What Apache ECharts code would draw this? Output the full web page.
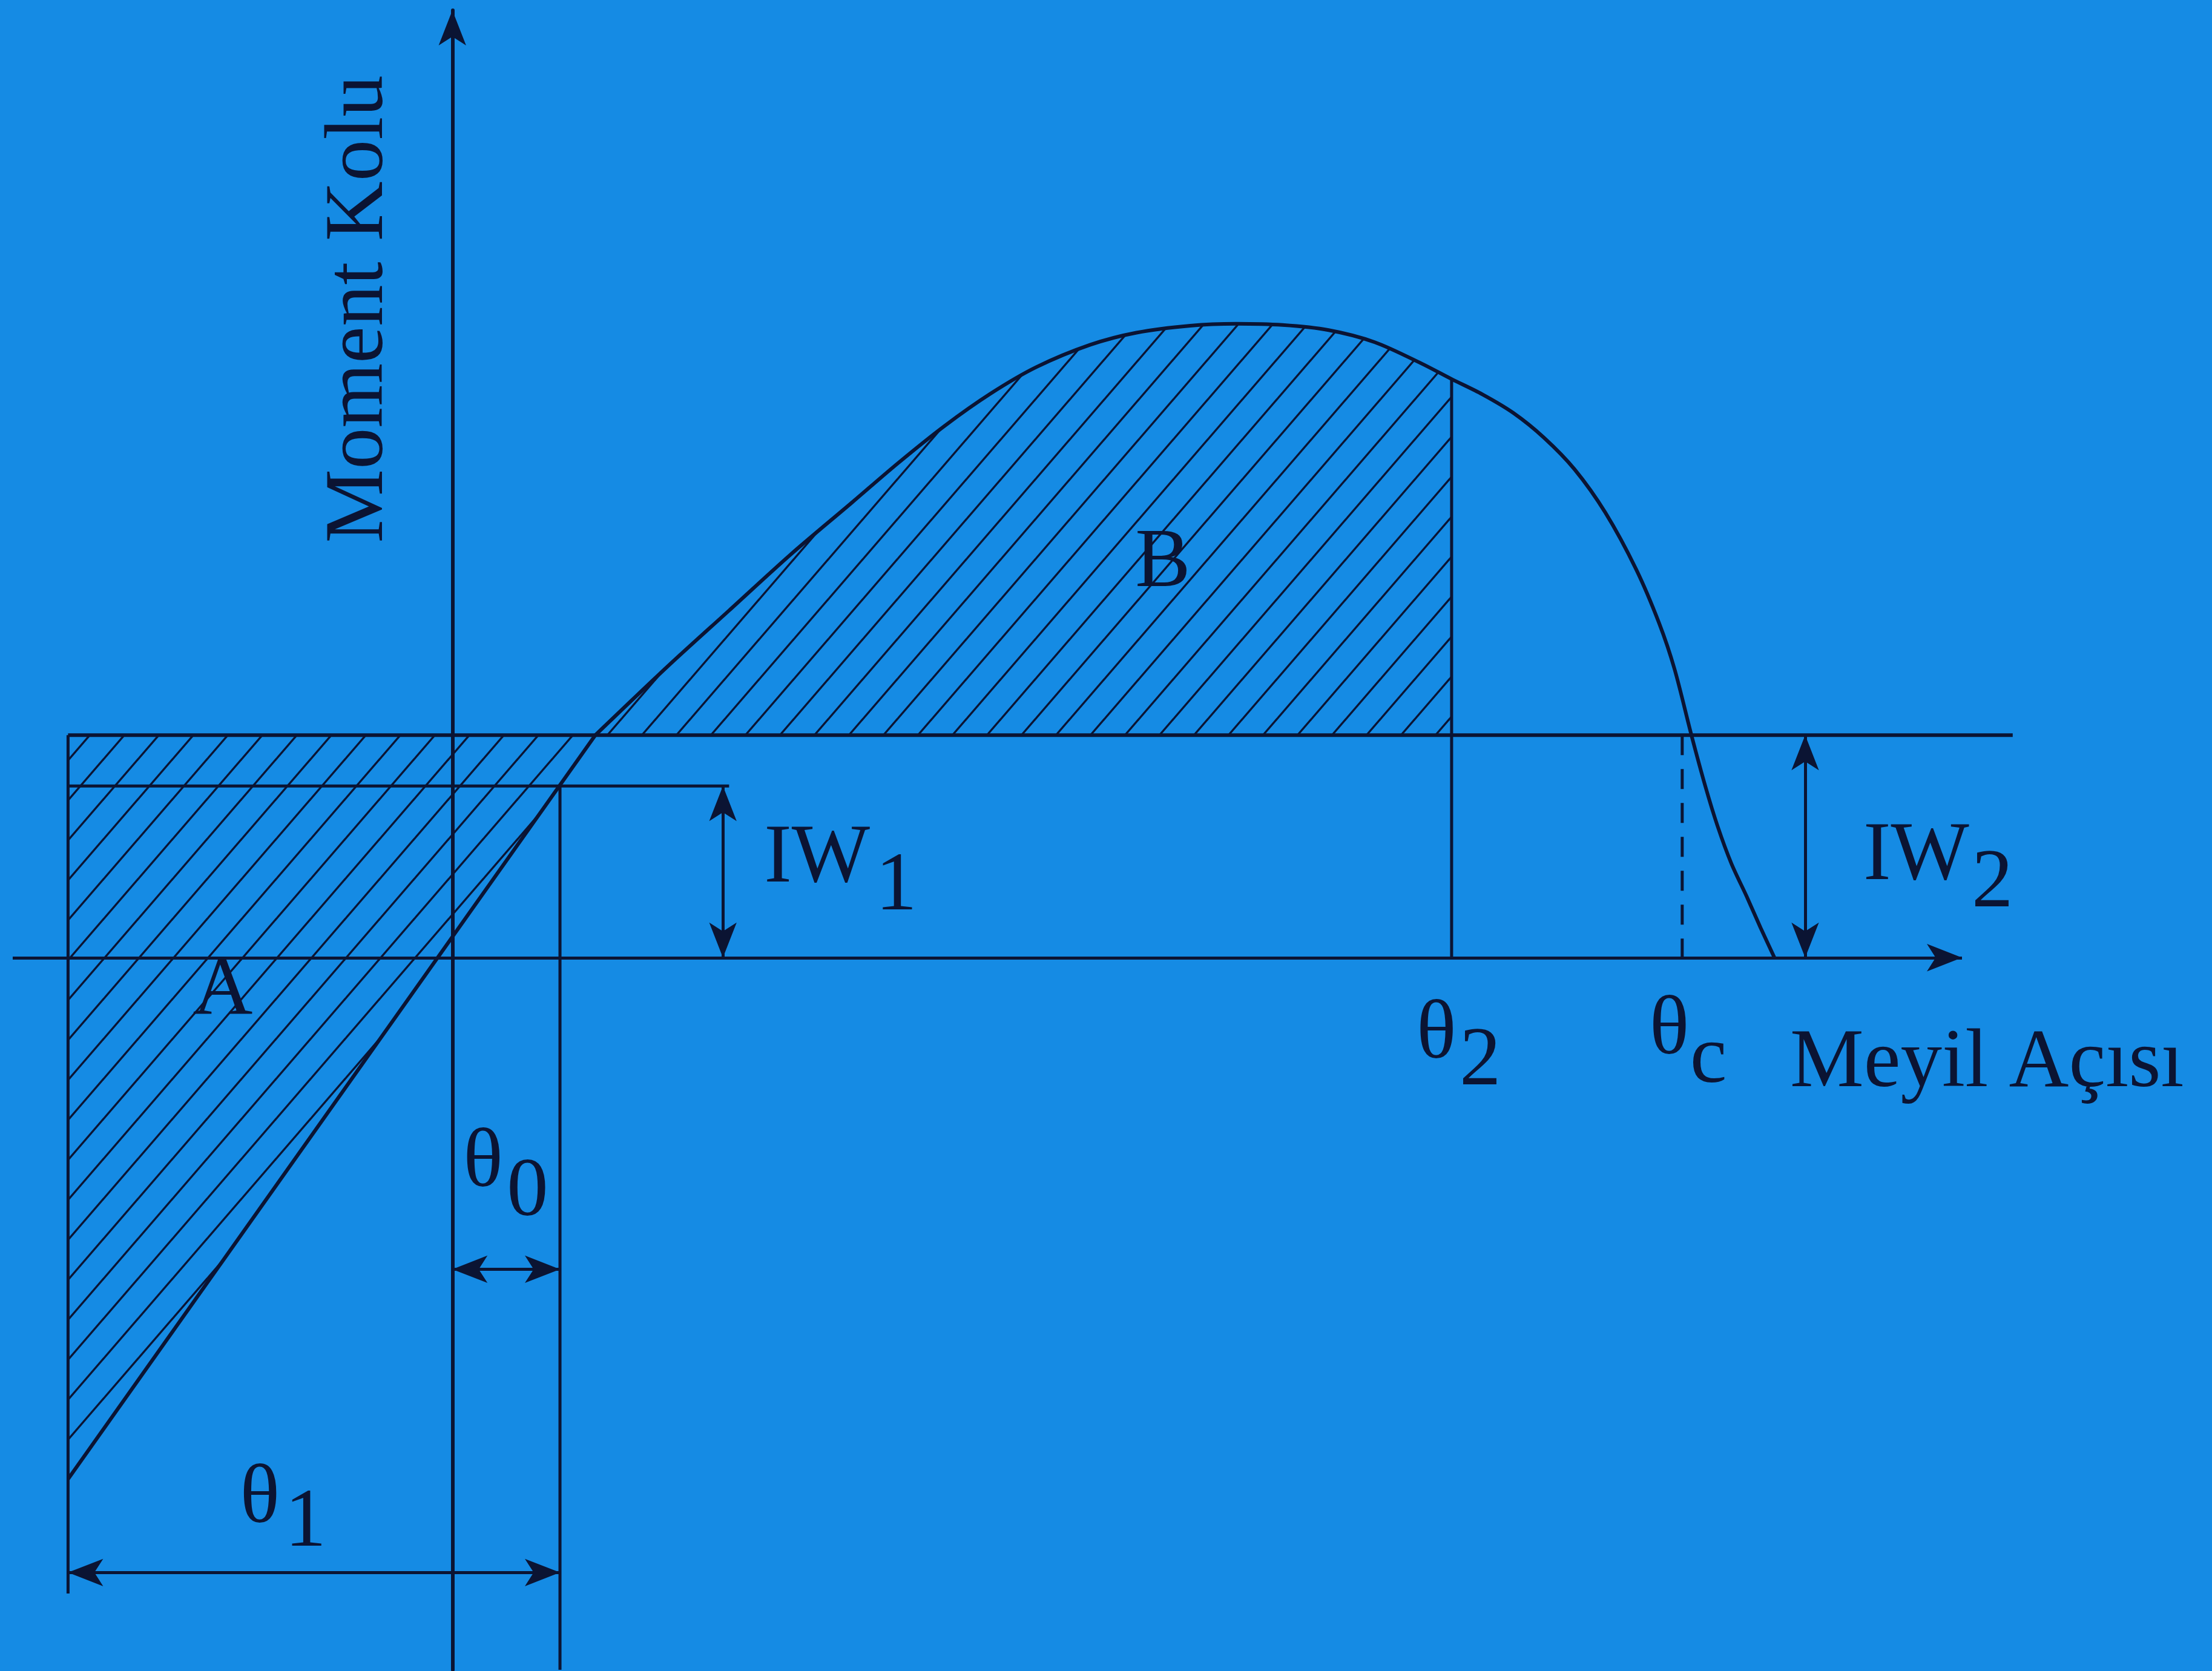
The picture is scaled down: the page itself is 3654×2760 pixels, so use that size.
<!DOCTYPE html>
<html>
<head>
<meta charset="utf-8">
<script src="https://cdn.jsdelivr.net/npm/echarts@6/dist/echarts.min.js"></script>
<style>
  html, body { margin: 0; padding: 0; background: #158be4; }
  #chart { width: 3654px; height: 2760px; }
</style>
</head>
<body>
<div id="chart"></div>
<script>
// Statical stability under wind heeling: righting lever curve (Moment Kolu)
// against heel angle (Meyil Açısı), with wind levers IW1 / IW2 and areas A, B.

// Righting lever curve, leeward branch: heel angle (deg) and lever (m)
const heelDeg = [9.3, 14, 18, 22, 26, 29, 32, 35, 38, 41.5, 44.5, 48, 51, 54, 57, 60, 63,
                 65, 67, 69, 71, 73, 75, 77, 78.5, 79.5, 80.6, 81.5, 82.3, 83.2, 84.2, 85.1, 86];
const leverM  = [0.35, 0.458, 0.546, 0.634, 0.716, 0.778, 0.836, 0.887, 0.929, 0.964, 0.983, 0.994, 0.997, 0.995, 0.987, 0.968, 0.935,
                 0.91, 0.886, 0.857, 0.818, 0.768, 0.70, 0.611, 0.526, 0.454, 0.35, 0.27, 0.207, 0.148, 0.096, 0.047, 0];

// Windward branch (roll back to windward by θ1)
const windwardHeelDeg = [-25, 9.3];
const windwardLeverM  = [-0.82, 0.35];

// Wind heeling levers (m)
const IW1 = 0.27;
const IW2 = 0.35;

// Characteristic angles (deg)
const THETA_0 = 7;        // static heel under steady wind
const THETA_1_FROM = -25; // roll-back position, θ1 measured from here to θ0
const THETA_2 = 65;       // limit of area B
const THETA_C = 80;       // intersection of IW2 with the curve

// Reference line extents (deg / m)
const IW2_LINE_END = 101.5;
const IW1_LINE_END = 18;
const ROLL_LINE_BOTTOM = -1.0;
const IW1_ARROW_AT = 17.6;
const IW2_ARROW_AT = 88;
const THETA0_ARROW_AT = -0.49;
const THETA1_ARROW_AT = -0.967;

// Axis extents
const X_MIN = -28.6, X_MAX = 102, X_ARROW_END = 98.2;
const Y_MIN = -1.12, Y_MAX = 1.49;

const INK = '#0b1433';
const BG = '#158be4';
const FONT_FAMILY = '"Liberation Serif", "Times New Roman", serif';
const FONT_SIZE = 137;

// Diagonal hatch tile used for areas A and B
function hatchPattern() {
  const w = 57, h = 66;
  const c = document.createElement('canvas');
  c.width = w; c.height = h;
  const g = c.getContext('2d');
  g.strokeStyle = INK;
  g.lineWidth = 3.4;
  for (const k of [-1, 0, 1]) {
    g.beginPath();
    g.moveTo(k * w - w, 2 * h);
    g.lineTo(k * w + 2 * w, -h);
    g.stroke();
  }
  return { image: c, repeat: 'repeat' };
}
const HATCH = hatchPattern();

const upperCurve = heelDeg.map((d, i) => [d, leverM[i]]);
const windward = windwardHeelDeg.map((d, i) => [d, windwardLeverM[i]]);
const leverAtTheta2 = leverM[heelDeg.indexOf(THETA_2)];

const areaA = [[windwardHeelDeg[0], IW2], windward[1], windward[0]];
const areaB = upperCurve.filter(p => p[0] <= THETA_2).concat([[THETA_2, IW2]]);

function hatchedArea(name, pts) {
  return {
    type: 'custom', name, coordinateSystem: 'cartesian2d',
    data: pts, silent: true, z: 1, animation: false,
    renderItem: (params, api) => {
      if (params.dataIndex !== 0) return null;
      return {
        type: 'polygon',
        shape: { points: pts.map(p => api.coord(p)) },
        style: { fill: HATCH, stroke: null }
      };
    }
  };
}

function segment(name, pts, extra) {
  return {
    type: 'line', name, data: pts, symbol: 'none', clip: false, silent: true,
    z: 3, animation: false,
    lineStyle: Object.assign({ color: INK, width: 6 }, extra || {})
  };
}

const HEAD = { symbol: 'arrow', symbolSize: [34, 58] };
const NO_HEAD = { symbol: 'none' };
function arrowLine(from, to, fromHead, toHead) {
  return [Object.assign({ coord: from }, fromHead), Object.assign({ coord: to }, toHead)];
}

const option = {
  backgroundColor: BG,
  animation: false,
  grid: { left: 21, right: 316.5, top: 17, bottom: 2, containLabel: false, outerBoundsMode: 'none' },
  xAxis: {
    type: 'value', min: X_MIN, max: X_MAX,
    axisLine: { show: false },
    axisTick: { show: false }, axisLabel: { show: false }, splitLine: { show: false }
  },
  yAxis: {
    type: 'value', min: Y_MIN, max: Y_MAX,
    axisLine: { onZero: true, symbol: ['none', 'arrow'], symbolSize: [34, 58],
                lineStyle: { color: INK, width: 6 } },
    axisTick: { show: false }, axisLabel: { show: false }, splitLine: { show: false }
  },
  series: [
    hatchedArea('A', areaA),
    hatchedArea('B', areaB),
    segment('IW2', [[windwardHeelDeg[0], IW2], [IW2_LINE_END, IW2]], { width: 6 }),
    segment('IW1', [[windwardHeelDeg[0], IW1], [IW1_LINE_END, IW1]], { width: 5 }),
    segment('roll-back', [[THETA_1_FROM, IW2], [THETA_1_FROM, ROLL_LINE_BOTTOM]], { width: 5 }),
    segment('θ0', [[THETA_0, IW1], [THETA_0, Y_MIN]], { width: 5 }),
    segment('θ2', [[THETA_2, leverAtTheta2], [THETA_2, 0]], { width: 5 }),
    segment('θc', [[THETA_C, IW2], [THETA_C, -0.02]], { width: 5, type: [33, 23] }),
    segment('windward', windward, { width: 6 }),
    Object.assign(segment('GZ', upperCurve, { width: 6 }), {
      smooth: 0.3,
      markLine: {
        silent: true, animation: false,
        label: { show: false },
        emphasis: { disabled: true },
        itemStyle: { color: INK },
        lineStyle: { color: INK, width: 5, type: 'solid' },
        data: [
          arrowLine([X_MIN, 0], [X_ARROW_END, 0], NO_HEAD, HEAD),
          arrowLine([IW1_ARROW_AT, IW1], [IW1_ARROW_AT, 0], HEAD, HEAD),
          arrowLine([IW2_ARROW_AT, IW2], [IW2_ARROW_AT, 0], HEAD, HEAD),
          arrowLine([0, THETA0_ARROW_AT], [THETA_0, THETA0_ARROW_AT], HEAD, HEAD),
          arrowLine([THETA_1_FROM, THETA1_ARROW_AT], [THETA_0, THETA1_ARROW_AT], HEAD, HEAD)
        ]
      }
    })
  ]
};

const chart = echarts.init(document.getElementById('chart'));
chart.setOption(option);

// Text placed next to the features it names (offsets in px from a data anchor)
const labels = [
  { text: 'Moment Kolu', at: [0, 0], dx: -152, dy: -685, rotation: Math.PI / 2 },
  { text: 'Meyil Açısı', at: [X_ARROW_END, 0], dx: -284, dy: 176 },
  { text: 'θ', at: [THETA_2, 0], dx: -58, dy: 129 },
  { text: '2', at: [THETA_2, 0], dx: 13, dy: 173 },
  { text: 'θ', at: [THETA_C, 0], dx: -54, dy: 122 },
  { text: 'c', at: [THETA_C, 0], dx: 13, dy: 169 },
  { text: 'IW', at: [IW1_ARROW_AT, 0], dx: 68, dy: -162 },
  { text: '1', at: [IW1_ARROW_AT, 0], dx: 252, dy: -116 },
  { text: 'IW', at: [IW2_ARROW_AT, 0], dx: 96, dy: -166 },
  { text: '2', at: [IW2_ARROW_AT, 0], dx: 275, dy: -121 },
  { text: 'θ', at: [0, 0], dx: 18, dy: 341 },
  { text: '0', at: [0, 0], dx: 90, dy: 389 },
  { text: 'θ', at: [THETA_1_FROM, 0], dx: 284, dy: 896 },
  { text: '1', at: [THETA_1_FROM, 0], dx: 358, dy: 935 },
  { text: 'A', at: [THETA_1_FROM, 0], dx: 206, dy: 56 },
  { text: 'B', at: [0, 0], dx: 1128, dy: -650 }
];

chart.setOption({
  graphic: labels.map(l => {
    const p = chart.convertToPixel({ gridIndex: 0 }, l.at);
    return {
      type: 'text', silent: true, z: 10,
      x: p[0] + l.dx, y: p[1] + l.dy, rotation: l.rotation || 0,
      style: {
        text: l.text, fill: INK,
        font: FONT_SIZE + 'px ' + FONT_FAMILY,
        align: 'left', verticalAlign: 'middle'
      }
    };
  })
});
</script>
</body>
</html>
